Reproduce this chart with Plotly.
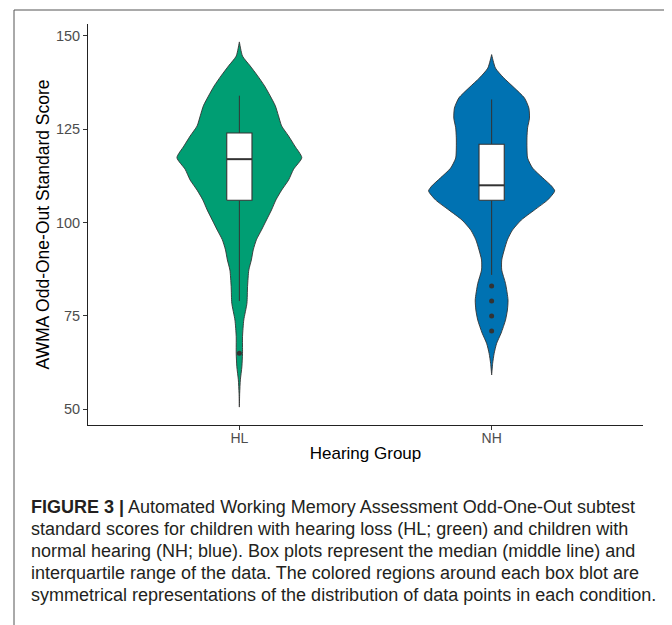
import plotly.graph_objects as go

# ---------------- data ----------------
groups = ["HL", "NH"]
group_pos = [1, 2]
violin_colors = ["#009E73", "#0072B2"]

# violin outline: score levels and relative density (1 = widest)
hl_scores = [148.4, 144.6, 142.0, 139.3, 136.6, 133.9, 131.3, 128.6, 125.9, 123.2,
             120.5, 117.4, 114.3, 111.4, 108.7, 106.1, 103.4, 100.7, 98.0, 95.4,
             92.7, 90.0, 87.3, 82.9, 78.4, 73.9, 69.5, 65.0, 61.4, 57.9, 54.3, 50.6]
hl_density = [0.0, 0.05, 0.17, 0.29, 0.40, 0.49, 0.57, 0.62, 0.67, 0.78,
              0.88, 0.99, 0.86, 0.78, 0.67, 0.58, 0.51, 0.43, 0.35, 0.27,
              0.22, 0.19, 0.15, 0.13, 0.12, 0.07, 0.05, 0.05, 0.04, 0.016, 0.005, 0.0]

nh_scores = [145.0, 141.4, 138.8, 136.1, 133.4, 130.7, 128.0, 125.4, 122.7, 120.0,
             117.3, 114.6, 112.0, 109.8, 108.5, 106.1, 103.4, 100.7, 98.0, 95.4,
             92.7, 90.0, 87.3, 83.7, 79.3, 76.6, 73.9, 70.4, 67.7, 65.0, 62.3, 59.2]
nh_density = [0.0, 0.06, 0.19, 0.36, 0.52, 0.59, 0.60, 0.57, 0.56, 0.56,
              0.57, 0.65, 0.81, 0.95, 1.0, 0.89, 0.68, 0.47, 0.33, 0.25,
              0.20, 0.16, 0.16, 0.22, 0.26, 0.25, 0.22, 0.15, 0.08, 0.04, 0.016, 0.0]

# box plot statistics
q1 = [106, 106]
median = [117, 110]
q3 = [124, 121]
lower_whisker = [79, 86]
upper_whisker = [134, 133]
outliers = [[65], [83, 79, 75, 71]]

y_ticks = [50, 75, 100, 125, 150]

caption_lines = [
    "<b>FIGURE 3 |</b> Automated Working Memory Assessment Odd-One-Out subtest",
    "standard scores for children with hearing loss (HL; green) and children with",
    "normal hearing (NH; blue). Box plots represent the median (middle line) and",
    "interquartile range of the data. The colored regions around each box blot are",
    "symmetrical representations of the distribution of data points in each condition.",
]

# ---------------- figure ----------------
VIOLIN_HALF = 0.25   # max half width in x units
BOX_HALF = 0.05
OUTLINE = "#333333"

fig = go.Figure()

profiles = [(hl_scores, hl_density), (nh_scores, nh_density)]
for i, (scores, dens) in enumerate(profiles):
    c = group_pos[i]
    xs = [c + d * VIOLIN_HALF for d in dens] + [c - d * VIOLIN_HALF for d in reversed(dens)]
    ys = list(scores) + list(reversed(scores))
    xs.append(xs[0]); ys.append(ys[0])
    fig.add_trace(go.Scatter(
        x=xs, y=ys, mode="lines", fill="toself", fillcolor=violin_colors[i],
        line=dict(color=OUTLINE, width=0.9, shape="spline", smoothing=0.6),
        hoverinfo="skip", showlegend=False))

for i in range(len(groups)):
    c = group_pos[i]
    # whiskers
    fig.add_trace(go.Scatter(
        x=[c, c, None, c, c], y=[q3[i], upper_whisker[i], None, q1[i], lower_whisker[i]],
        mode="lines", line=dict(color=OUTLINE, width=1), hoverinfo="skip", showlegend=False))
    # box
    fig.add_trace(go.Scatter(
        x=[c - BOX_HALF, c + BOX_HALF, c + BOX_HALF, c - BOX_HALF, c - BOX_HALF],
        y=[q1[i], q1[i], q3[i], q3[i], q1[i]],
        mode="lines", fill="toself", fillcolor="white",
        line=dict(color=OUTLINE, width=1.1), hoverinfo="skip", showlegend=False))
    # median
    fig.add_trace(go.Scatter(
        x=[c - BOX_HALF, c + BOX_HALF], y=[median[i], median[i]],
        mode="lines", line=dict(color=OUTLINE, width=2), hoverinfo="skip", showlegend=False))
    # outliers
    fig.add_trace(go.Scatter(
        x=[c] * len(outliers[i]), y=outliers[i], mode="markers",
        marker=dict(color=OUTLINE, size=5), hoverinfo="skip", showlegend=False))

# page is 672x625; the html body adds an 8 px offset, so the figure is 664x617
OFF = 8
PAGE_W, PAGE_H = 672, 625
PLOT_L, PLOT_R, PLOT_T, PLOT_B = 88, 643, 24, 425   # plot area in page pixels
W, H = PAGE_W - OFF, PAGE_H - OFF
ML, MT = PLOT_L - OFF, PLOT_T - OFF
MR, MB = PAGE_W - PLOT_R, PAGE_H - PLOT_B

def px(xpage):
    return (xpage - PLOT_L) / (PLOT_R - PLOT_L)

def py(ypage):
    return (PLOT_B - ypage) / (PLOT_B - PLOT_T)

# outer border of the figure panel
fig.add_shape(type="rect", xref="paper", yref="paper",
              x0=px(14), x1=px(667), y0=py(640), y1=py(10),
              line=dict(color="#555555", width=1), fillcolor="rgba(0,0,0,0)", layer="below")

baselines = [512, 534, 556, 578, 600]
for txt, b in zip(caption_lines, baselines):
    fig.add_annotation(text=txt, xref="paper", yref="paper", x=px(29), y=py(b - 5),
                       xanchor="left", yanchor="middle", showarrow=False, align="left",
                       font=dict(family="Liberation Sans, Arial, sans-serif",
                                 size=18, color="#231f20"))

fig.update_layout(
    width=W, height=H,
    margin=dict(l=ML, r=MR, t=MT, b=MB, pad=0),
    paper_bgcolor="white", plot_bgcolor="white",
    font=dict(family="Liberation Sans, Arial, sans-serif"),
    showlegend=False,
    xaxis=dict(range=[0.4, 2.6], tickvals=group_pos, ticktext=groups,
               showgrid=False, zeroline=False, showline=True, linecolor="#222222", linewidth=1,
               ticks="outside", ticklen=4, tickcolor="#333333", ticklabelstandoff=-4,
               tickfont=dict(size=14, color="#4d4d4d"),
               title=dict(text="Hearing Group", font=dict(size=17, color="black"), standoff=2)),
    yaxis=dict(range=[45.8, 153.2], tickvals=y_ticks,
               showgrid=False, zeroline=False, showline=True, linecolor="#222222", linewidth=1,
               ticks="outside", ticklen=4, tickcolor="#333333",
               tickfont=dict(size=14.5, color="#4d4d4d"),
               title=dict(text="AWMA Odd-One-Out Standard Score", font=dict(size=17.5, color="black"), standoff=1)),
)

fig.write_html("out.html")
